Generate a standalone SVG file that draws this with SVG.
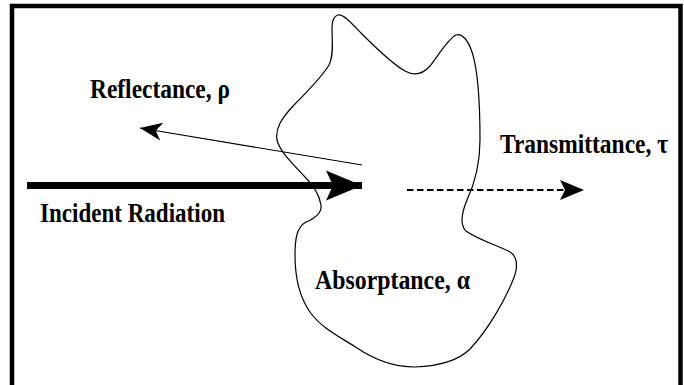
<svg xmlns="http://www.w3.org/2000/svg" width="684" height="385" viewBox="0 0 684 385">
  <style>
    .lbl { font-family: "Liberation Serif", "Times New Roman", serif; font-weight: bold; font-size: 28px; fill: #000; }
    .outline { fill: none; stroke: #000; stroke-width: 1.2; }
  </style>
  <defs>
    <marker id="headThin" markerUnits="userSpaceOnUse" orient="auto" overflow="visible" refX="0" refY="0" markerWidth="1" markerHeight="1">
      <path d="M0,0 L-22,-9 L-16,0 L-22,9 Z" fill="#000"/>
    </marker>
    <marker id="headBig" markerUnits="userSpaceOnUse" orient="auto" overflow="visible" refX="0" refY="0" markerWidth="1" markerHeight="1">
      <path d="M0,0 L-36,-15 L-29,0 L-36,15 Z" fill="#000"/>
    </marker>
    <marker id="headDash" markerUnits="userSpaceOnUse" orient="auto" overflow="visible" refX="0" refY="0" markerWidth="1" markerHeight="1">
      <path d="M19,0 L-5,-10 L0,0 L-5,10 Z" fill="#000"/>
    </marker>
  </defs>
  <rect width="684" height="385" fill="#fff"/>
  <g id="frame">
    <path d="M12,385 V6 H680.5 V385" fill="none" stroke="#000" stroke-width="4.5"/>
  </g>
  <g id="absorber">
    <path class="outline" d="M338,15 C344,14 352,24 362,34 C375,47 392,64 405,71 C414,76 422,75 430,66 C438,56 447,40 456,35 C462,33 468,40 472,52 C478,70 480,110 480,140 C480,165 474,185 467,200 C462,212 459,224 466,231 C478,240 500,246 510,252 C518,257 518,268 513,280 C505,300 488,330 470,349 C458,361 440,366 415,367 C395,367 375,360 357,348 C340,337 320,327 310,312 C298,295 295,275 295,255 C295,238 297,227 306,222 C316,218 322,213 321,205 C319,193 313,185 305,177 C292,163 280,152 277,140 C275,128 282,118 293,106 C305,94 322,77 329,65 C334,55 332,40 332,28 C332,20 334,16 338,15 Z"/>
    <text class="lbl" transform="translate(315,289) scale(0.84,1)" textLength="184.5" lengthAdjust="spacingAndGlyphs">Absorptance, α</text>
  </g>
  <g id="label-reflectance">
    <text class="lbl" transform="translate(90,98) scale(0.84,1)" textLength="166.7" lengthAdjust="spacingAndGlyphs">Reflectance, ρ</text>
  </g>
  <g id="label-incident">
    <text class="lbl" transform="translate(40,222) scale(0.84,1)" textLength="220.2" lengthAdjust="spacingAndGlyphs">Incident Radiation</text>
  </g>
  <g id="label-transmittance">
    <text class="lbl" transform="translate(500,153) scale(0.84,1)" textLength="200" lengthAdjust="spacingAndGlyphs">Transmittance, τ</text>
  </g>
  <g id="connectors">
    <line x1="27" y1="185.5" x2="362" y2="185.5" stroke="#000" stroke-width="7" marker-end="url(#headBig)"/>
    <line x1="362" y1="165" x2="140" y2="128" stroke="#000" stroke-width="1.2" marker-end="url(#headThin)"/>
    <line x1="407" y1="190" x2="565" y2="190" stroke="#000" stroke-width="2" stroke-dasharray="6.5 3.5" marker-end="url(#headDash)"/>
  </g>
</svg>
